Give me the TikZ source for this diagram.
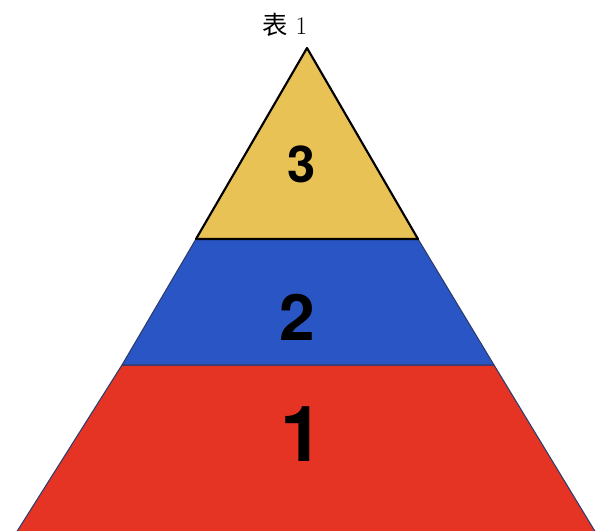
\documentclass[tikz,border=0pt]{standalone}
\usepackage{fontspec}
\setsansfont{TeX Gyre Heros}
\newfontfamily\cjkfont{Noto Sans CJK SC}
\usetikzlibrary{positioning}

\begin{document}
\begin{tikzpicture}[x=0.75pt,y=-0.75pt,
  band/.style={draw=bandEdge, line width=0.8pt, line join=round},
  topband/.style={draw=black, line width=1.6pt, line join=round},
  num/.style={font=\sffamily\bfseries, text=black, inner sep=0pt},
]
\definecolor{bandEdge}{HTML}{2C3C6E}
\definecolor{pYel}{HTML}{E8C255}
\definecolor{pBlu}{HTML}{2A55C4}
\definecolor{pRed}{HTML}{E53424}
\useasboundingbox (0,0) rectangle (601,531);
% corners
\coordinate (apex) at (307,48);
\coordinate (yl) at (196,239);  \coordinate (yr) at (418,239);
\coordinate (bl) at (122,365);  \coordinate (br) at (494,365);
\coordinate (rl) at (16,533);   \coordinate (rr) at (596,533);
% title
\node[font=\fontsize{19}{22}\selectfont] (title) at (285,25) {{\cjkfont 表} 1};
% ---- bands ----
\begin{scope}
\clip (0,0) rectangle (601,531);
\filldraw[band, fill=pRed] (bl) -- (br) -- (rr) -- (rl) -- cycle;
\end{scope}
\filldraw[band, fill=pBlu] (yl) -- (yr) -- (br) -- (bl) -- cycle;
\filldraw[topband, fill=pYel] (apex) -- (yr) -- (yl) -- cycle;
% labels
\node[num, font=\fontsize{38}{40}\sffamily\bfseries] (three) at (302,164) {3};
\node[num, font=\fontsize{48}{50}\sffamily\bfseries] (two) at (297,317) {2};
\node[num, font=\fontsize{58}{60}\sffamily\bfseries] (one) at (302,434) {1};
\end{tikzpicture}
\end{document}
